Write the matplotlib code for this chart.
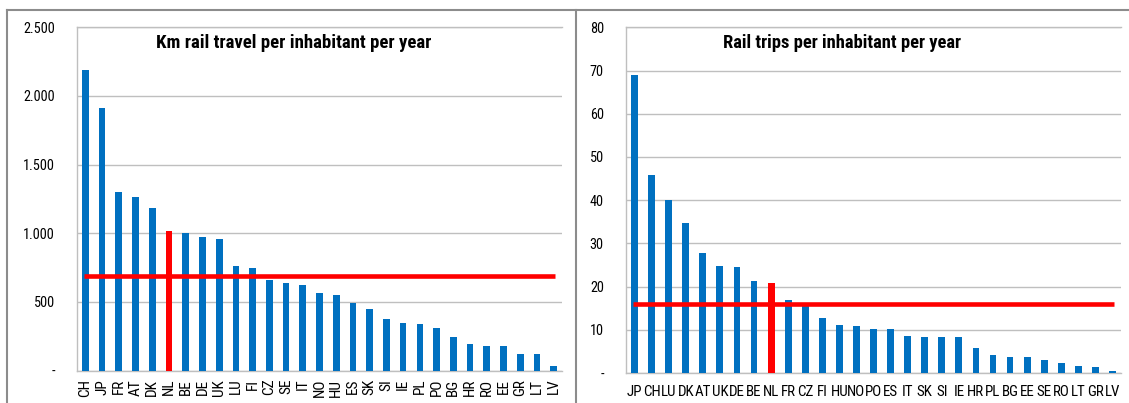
import matplotlib
matplotlib.use("Agg")
import matplotlib.pyplot as plt
from matplotlib.lines import Line2D
from matplotlib.ticker import FixedLocator
from matplotlib import font_manager as fm

# ---- data: left chart ----
km_countries = ["CH", "JP", "FR", "AT", "DK", "NL", "BE", "DE", "UK", "LU", "FI", "CZ", "SE", "IT",
                "NO", "HU", "ES", "SK", "SI", "IE", "PL", "PO", "BG", "HR", "RO", "EE", "GR", "LT", "LV"]
km_values = [2190, 1915, 1300, 1265, 1187, 1017, 1000, 970, 961, 759, 747, 657, 640, 623,
             562, 550, 489, 447, 375, 348, 338, 306, 246, 190, 182, 178, 122, 122, 36]
km_average = 685
km_highlight = "NL"
km_ticks = [0, 500, 1000, 1500, 2000, 2500]
km_ticklabels = ["-", "500", "1.000", "1.500", "2.000", "2.500"]
km_title = "Km rail travel per inhabitant per year"

# ---- data: right chart ----
trip_countries = ["JP", "CH", "LU", "DK", "AT", "UK", "DE", "BE", "NL", "FR", "CZ", "FI", "HU", "NO",
                  "PO", "ES", "IT", "SK", "SI", "IE", "HR", "PL", "BG", "EE", "SE", "RO", "LT", "GR", "LV"]
trip_values = [68.9, 45.9, 40.1, 34.8, 27.8, 24.8, 24.6, 21.2, 20.8, 16.9, 15.6, 12.8, 11.2, 10.9,
               10.1, 10.1, 8.6, 8.4, 8.4, 8.4, 5.7, 4.1, 3.6, 3.6, 3.1, 2.4, 1.6, 1.5, 0.4]
trip_average = 15.9
trip_highlight = "NL"
trip_ticks = [0, 10, 20, 30, 40, 50, 60, 70, 80]
trip_ticklabels = ["-", "10", "20", "30", "40", "50", "60", "70", "80"]
trip_title = "Rail trips per inhabitant per year"

# ---- font choice: prefer a narrow sans (like Arial Narrow) if installed ----
names = {f.name for f in fm.fontManager.ttflist}
chosen = None
for cand in ["Liberation Sans Narrow", "Arial Narrow", "Roboto Condensed", "Open Sans Condensed",
             "Noto Sans Condensed", "DejaVu Sans Condensed"]:
    if cand in names:
        chosen = cand
        break
if chosen is None:
    for f in fm.fontManager.ttflist:
        if ("Narrow" in f.name or "Condensed" in f.name) and "Mono" not in f.name and "Serif" not in f.name:
            chosen = f.name
            break
FONT = ([chosen] if chosen else []) + ['Liberation Sans', 'DejaVu Sans']
plt.rcParams['font.family'] = FONT

BLUE = "#0070C0"
RED = "#FF0000"
GRID = "#BFBFBF"

W, H = 1129, 403
fig = plt.figure(figsize=(W / 100, H / 100), dpi=100)
renderer = fig.canvas.get_renderer()


def fit_size(text, target_w, base, maxsize, weight='normal'):
    t = fig.text(0, 0, text, fontsize=base, fontweight=weight, family=FONT)
    w = t.get_window_extent(renderer).width
    t.remove()
    return min(maxsize, base * target_w / w)


title_left_fs = fit_size(km_title, 275, 12, 13.5, 'bold')
title_right_fs = fit_size(trip_title, 240, 12, 13.5, 'bold')
ytick_fs = fit_size("2.500", 32, 11, 12)
xtick_rot_fs = fit_size("CH", 18, 11, 11.5)
xtick_hor_fs = fit_size("HU", 17.5, 11, 12.5)


def panel(rect, cats, vals, avg, hl, ticks, ticklabels, title, title_x, title_fs, rotate):
    ax = fig.add_axes(rect)
    x = list(range(len(cats)))
    colors = [RED if c == hl else BLUE for c in cats]
    ax.bar(x, vals, width=0.4, color=colors, zorder=3)
    ax.plot([-0.1, len(cats) - 1 + 0.1], [avg, avg], color=RED, lw=3.3, zorder=4, solid_capstyle='butt')
    ax.set_xlim(-0.5, len(cats) - 0.5)
    ax.set_ylim(ticks[0], ticks[-1])
    ax.yaxis.set_major_locator(FixedLocator(ticks))
    ax.set_yticklabels(ticklabels, fontsize=ytick_fs, family=FONT)
    ax.set_xticks(x)
    if rotate:
        ax.set_xticklabels(cats, rotation=90, fontsize=xtick_rot_fs, family=FONT)
        ax.tick_params(axis='x', pad=6)
    else:
        ax.set_xticklabels(cats, fontsize=xtick_hor_fs, family=FONT)
        ax.tick_params(axis='x', pad=9)
    ax.tick_params(axis='both', length=0)
    ax.tick_params(axis='y', pad=16)
    ax.grid(axis='y', color=GRID, lw=1.0, zorder=0)
    ax.spines['right'].set_visible(False)
    for s in ['top', 'left', 'bottom']:
        ax.spines[s].set_color(GRID)
        ax.spines[s].set_linewidth(1.0)
    ax.text(title_x, 0.955, title, transform=ax.transAxes, ha='center', va='center',
            fontsize=title_fs, fontweight='bold', family=FONT)
    return ax


def px_rect(x0, y0, x1, y1):
    return [x0 / W, (H - y1) / H, (x1 - x0) / W, (y1 - y0) / H]


panel(px_rect(77, 27.3, 562, 370.5), km_countries, km_values, km_average, km_highlight,
      km_ticks, km_ticklabels, km_title, 0.447, title_left_fs, True)
panel(px_rect(626, 27.3, 1121, 373), trip_countries, trip_values, trip_average, trip_highlight,
      trip_ticks, trip_ticklabels, trip_title, 0.436, title_right_fs, False)

# outer panel frame
FRAME = "#8C8C8C"
fig.add_artist(Line2D([7 / W, 1.0], [1 - 9.5 / H, 1 - 9.5 / H], transform=fig.transFigure, color=FRAME, lw=1.5))
fig.add_artist(Line2D([7 / W, 7 / W], [0, 1 - 9.5 / H], transform=fig.transFigure, color=FRAME, lw=1.5))
fig.add_artist(Line2D([576 / W, 576 / W], [0, 1 - 9.5 / H], transform=fig.transFigure, color=FRAME, lw=1.5))

fig.savefig("out.png", dpi=100)
